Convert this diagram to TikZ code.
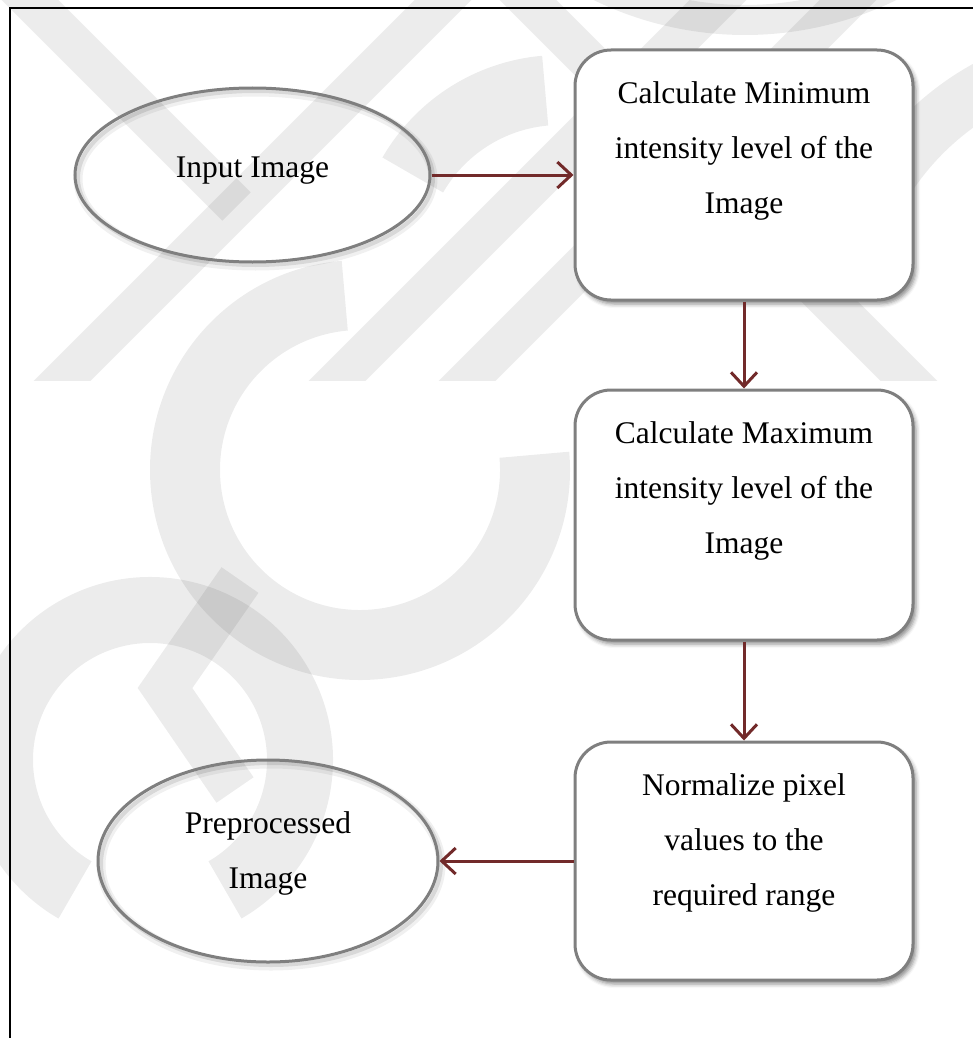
\documentclass[tikz,border=0pt]{standalone}
\usepackage{fontspec}
\setmainfont{Liberation Serif}
\usetikzlibrary{arrows.meta,shapes.geometric,shadows.blur}
\definecolor{arrowred}{HTML}{722A2A}
\definecolor{outlinegray}{HTML}{7F7F7F}
\newcommand{\ntext}[4]{\begin{minipage}[c][#1pt][t]{#3pt}\centering\rule{0pt}{#2pt}#4\end{minipage}}
\tikzset{
  wm/.style={fill=black, fill opacity=0.075},
  wmline/.style={draw=black, draw opacity=0.075, line width=40pt},
  procbox/.style={draw=outlinegray, line width=3pt, fill=white, rounded corners=36pt,
    inner sep=0pt, blur shadow={shadow xshift=3pt, shadow yshift=-4pt, shadow blur radius=4pt, shadow opacity=45}},
  termell/.style={ellipse, draw=outlinegray, line width=3pt, inner sep=0pt,
    preaction={draw=black, draw opacity=0.06, line width=9pt, transform canvas={shift={(3pt,-4pt)}}},
    preaction={draw=black, draw opacity=0.10, line width=4pt, transform canvas={shift={(3pt,-3pt)}}}},
  flowarrow/.style={draw=arrowred, line width=3pt, -{Straight Barb[length=14pt,width=26pt]}},
  every node/.style={font=\fontsize{31.5}{55}\selectfont}
}
\begin{document}
\begin{tikzpicture}[x=1pt, y=-1pt]
\useasboundingbox (0,0) rectangle (973,1038);
\clip (0,0) rectangle (973,1038);
% watermark
\begin{scope}
  \clip (-10,-10) rectangle (990,380);
  \draw[wmline] (463,-20) -- (43,400);
  \draw[wmline] (-40,-70) -- (236.5,206.5);
  \draw[wmline] (738,-20) -- (318,400);
  \draw[wmline] (868,-20) -- (448,400);
  \draw[wmline] (508,-20) -- (928,400);
\end{scope}
\begin{scope}[shift={(360,470)}]
  \fill[wm] (-95:210) arc[start angle=-95, end angle=-365, radius=210] -- (-365:140) arc[start angle=-365, end angle=-95, radius=140] -- cycle;
\end{scope}
\begin{scope}[shift={(560,260)}]
  \fill[wm] (-95:205) arc[start angle=-95, end angle=-150, radius=205] -- (-150:135) arc[start angle=-150, end angle=-95, radius=135] -- cycle;
\end{scope}
\begin{scope}[shift={(150,760)}]
  \fill[wm] (60:183) arc[start angle=60, end angle=-240, radius=183] -- (-240:117) arc[start angle=-240, end angle=60, radius=117] -- cycle;
\end{scope}
\begin{scope}[shift={(745,-310)}]
  \fill[wm] (125:345) arc[start angle=125, end angle=55, radius=345] -- (55:315) arc[start angle=55, end angle=125, radius=315] -- cycle;
\end{scope}
\begin{scope}[shift={(1120,330)}]
  \fill[wm] (-110:304) arc[start angle=-110, end angle=-165, radius=304] -- (-165:250) arc[start angle=-165, end angle=-110, radius=250] -- cycle;
\end{scope}
\draw[wmline, line width=45pt, line join=miter] (240,580) -- (165,688) -- (235,790);
% frame
\draw[line width=2.5pt] (10,1060) -- (10,8) -- (990,8);
% nodes
\node[termell, minimum width=355pt, minimum height=174pt] (in) at (252.5,175) {\ntext{60}{32}{220}{Input Image}};
\node[procbox] (b1) at (744,175) {\ntext{250}{53}{338}{Calculate Minimum\\intensity level of the\\Image}};
\node[procbox] (b2) at (744,515) {\ntext{250}{53}{338}{Calculate Maximum\\intensity level of the\\Image}};
\node[procbox] (b3) at (744,861) {\ntext{238}{53}{338}{Normalize pixel\\values to the\\required range}};
\node[termell, minimum width=340pt, minimum height=202pt] (out) at (268,861) {\ntext{120}{32}{220}{Preprocessed\\Image}};
% connectors
\draw[flowarrow] (in.east) -- (b1.west);
\draw[flowarrow] (b1.south) -- (b2.north);
\draw[flowarrow] (b2.south) -- (b3.north);
\draw[flowarrow] (b3.west) -- (out.east);
\end{tikzpicture}
\end{document}
